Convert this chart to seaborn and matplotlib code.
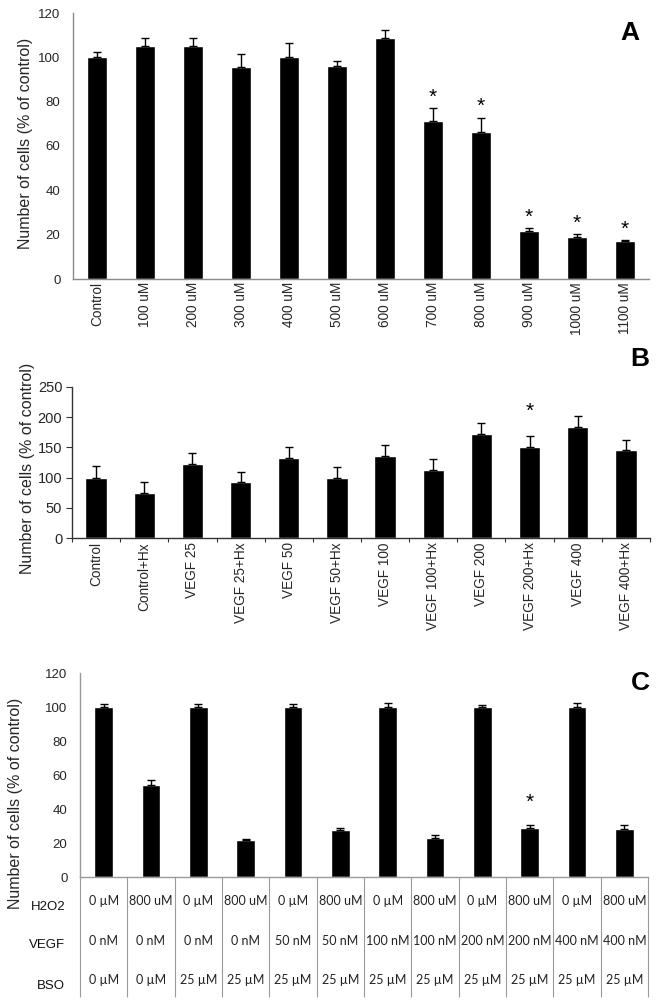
import numpy as np
import pandas as pd
import matplotlib
matplotlib.use("Agg")
import matplotlib.pyplot as plt
import seaborn as sns

# ---------------- data ----------------
a_labels = ["Control", "100 uM", "200 uM", "300 uM", "400 uM", "500 uM",
            "600 uM", "700 uM", "800 uM", "900 uM", "1000 uM", "1100 uM"]
a_values = [100, 105, 105, 95.5, 100, 96, 108.5, 71.5, 66.5, 21.5, 19, 17]
a_errors = [2.5, 3.8, 3.8, 5.8, 6.5, 2.5, 4, 5.6, 6.3, 1.3, 1.2, 0.5]
a_signif = [0, 0, 0, 0, 0, 0, 0, 1, 1, 1, 1, 1]

b_labels = ["Control", "Control+Hx", "VEGF 25", "VEGF 25+Hx", "VEGF 50",
            "VEGF 50+Hx", "VEGF 100", "VEGF 100+Hx", "VEGF 200",
            "VEGF 200+Hx", "VEGF 400", "VEGF 400+Hx"]
b_values = [100, 74, 123, 92, 133, 100, 136, 112, 172, 151, 184, 145]
b_errors = [19, 18, 18, 18, 18, 18, 18, 19, 18, 18, 18, 18]
b_signif = [0, 0, 0, 0, 0, 0, 0, 0, 0, 1, 0, 0]

c_h2o2 = ["0 µM", "800 uM"] * 6
c_vegf = ["0 nM", "0 nM", "0 nM", "0 nM", "50 nM", "50 nM", "100 nM",
          "100 nM", "200 nM", "200 nM", "400 nM", "400 nM"]
c_bso = ["0 µM", "0 µM"] + ["25 µM"] * 10
c_row_labels = ["H2O2", "VEGF", "BSO"]
c_values = [100, 54, 100, 21.5, 100, 27.5, 100, 23, 100, 29, 100, 28.5]
c_errors = [1.5, 2.8, 1.5, 1.0, 2.0, 1.5, 2.5, 1.7, 1.0, 1.8, 2.5, 1.8]
c_signif = [0, 0, 0, 0, 0, 0, 0, 0, 0, 1, 0, 0]

# ---------------- style ----------------
sns.set_style("white")
plt.rcParams["font.family"] = ["Liberation Sans", "DejaVu Sans"]

W, H = 656, 1001
fig = plt.figure(figsize=(W / 100, H / 100), dpi=100)


def ax_px(left, top, right, bottom):
    return fig.add_axes([left / W, 1 - bottom / H, (right - left) / W, (bottom - top) / H])


def bars(ax, labels, values, errors, width):
    df = pd.DataFrame({"cat": labels, "val": values})
    sns.barplot(data=df, x="cat", y="val", order=labels, color="black",
                width=width, errorbar=None, saturation=1, ax=ax, zorder=2)
    n = len(values)
    x = np.arange(n)
    ax.errorbar(x, values, yerr=[np.zeros(n), errors], fmt="none",
                ecolor="black", elinewidth=1, capsize=3, capthick=1, zorder=3)
    ax.set_xlim(-0.5, n - 0.5)
    ax.set_xlabel("")
    for s in ["top", "right"]:
        ax.spines[s].set_visible(False)


def stars(ax, values, errors, signif, off_pt, size=15):
    for i, (v, e, s) in enumerate(zip(values, errors, signif)):
        if s:
            ax.annotate("*", xy=(i, v + e), xytext=(0, off_pt),
                        textcoords="offset points", ha="center", va="center",
                        fontsize=size, color="black")


ylab = "Number of cells (% of control)"

# ---------------- Panel A ----------------
axA = ax_px(73, 13, 649, 279)
bars(axA, a_labels, a_values, a_errors, 0.4)
axA.set_ylim(0, 120)
axA.set_yticks(np.arange(0, 121, 20))
axA.tick_params(axis="y", length=0, pad=9, labelsize=9.5)
axA.tick_params(axis="x", length=0, pad=2, labelsize=9.8, rotation=90)
for s in ["left", "bottom"]:
    axA.spines[s].set_color("#8a8a8a")
    axA.spines[s].set_linewidth(1)
axA.set_ylabel(ylab, fontsize=11.5)
axA.yaxis.set_label_coords((33 - 73) / 576, 0.51)
stars(axA, a_values, a_errors, a_signif, 8)

# ---------------- Panel B ----------------
axB = ax_px(72, 387, 650, 538)
bars(axB, b_labels, b_values, b_errors, 0.44)
axB.set_ylim(0, 250)
axB.set_yticks(np.arange(0, 251, 50))
axB.set_xticks(np.arange(len(b_labels)))
axB.set_xticks(np.arange(-0.5, len(b_labels), 1.0), minor=True)
axB.tick_params(axis="y", left=True, length=4, width=0.8, color="#333333",
                pad=3, labelsize=10.5, direction="out")
axB.tick_params(axis="x", which="major", length=0, pad=3, labelsize=9.8,
                rotation=90)
axB.tick_params(axis="x", which="minor", bottom=True, length=3, width=0.8,
                color="#333333", direction="out")
for s in ["left", "bottom"]:
    axB.spines[s].set_color("#333333")
    axB.spines[s].set_linewidth(1)
axB.set_ylabel(ylab, fontsize=11.5)
axB.yaxis.set_label_coords((35 - 72) / 578, 0.46)
stars(axB, b_values, b_errors, b_signif, 18)

# ---------------- Panel C ----------------
axC = ax_px(80, 673, 648, 877)
bars(axC, [f"c{i}" for i in range(len(c_values))], c_values, c_errors, 0.4)
axC.set_ylim(0, 120)
axC.set_yticks(np.arange(0, 121, 20))
axC.set_xticks([])
axC.set_xticks(np.arange(-0.5, len(c_values), 1.0), minor=True)
axC.tick_params(axis="x", which="minor", bottom=True, length=120 * 0.72,
                width=0.8, color="#9a9a9a", direction="out")
axC.tick_params(axis="y", length=0, pad=9, labelsize=9.5)
for s in ["left", "bottom"]:
    axC.spines[s].set_color("#9a9a9a")
    axC.spines[s].set_linewidth(1)
axC.set_ylabel(ylab, fontsize=11.5)
axC.yaxis.set_label_coords((23 - 80) / 568, 0.36)
stars(axC, c_values, c_errors, c_signif, 16)

row_offsets_px = [24, 64, 103]
label_offsets_px = [30, 68, 109]
for row, offs in zip([c_h2o2, c_vegf, c_bso], row_offsets_px):
    for i, txt in enumerate(row):
        axC.annotate(txt, xy=(i, 0), xycoords=("data", "axes fraction"),
                     xytext=(0, -offs * 0.72), textcoords="offset points",
                     ha="center", va="center", fontsize=9,
                     family=["Lato", "DejaVu Sans"], color="#222222")
for lab, offs in zip(c_row_labels, label_offsets_px):
    axC.annotate(lab, xy=(0, 0), xycoords="axes fraction",
                 xytext=((65 - 80) * 0.72, -offs * 0.72),
                 textcoords="offset points", ha="right", va="center",
                 fontsize=9.5, color="#111111")

# ---------------- panel letters ----------------
for letter, (cx, cy) in zip(["A", "B", "C"], [(630, 33), (640, 359), (640, 683)]):
    fig.text(cx / W, 1 - cy / H, letter, ha="center", va="center",
             fontsize=19, fontweight="bold", color="black")

fig.savefig("out.png", dpi=100)
